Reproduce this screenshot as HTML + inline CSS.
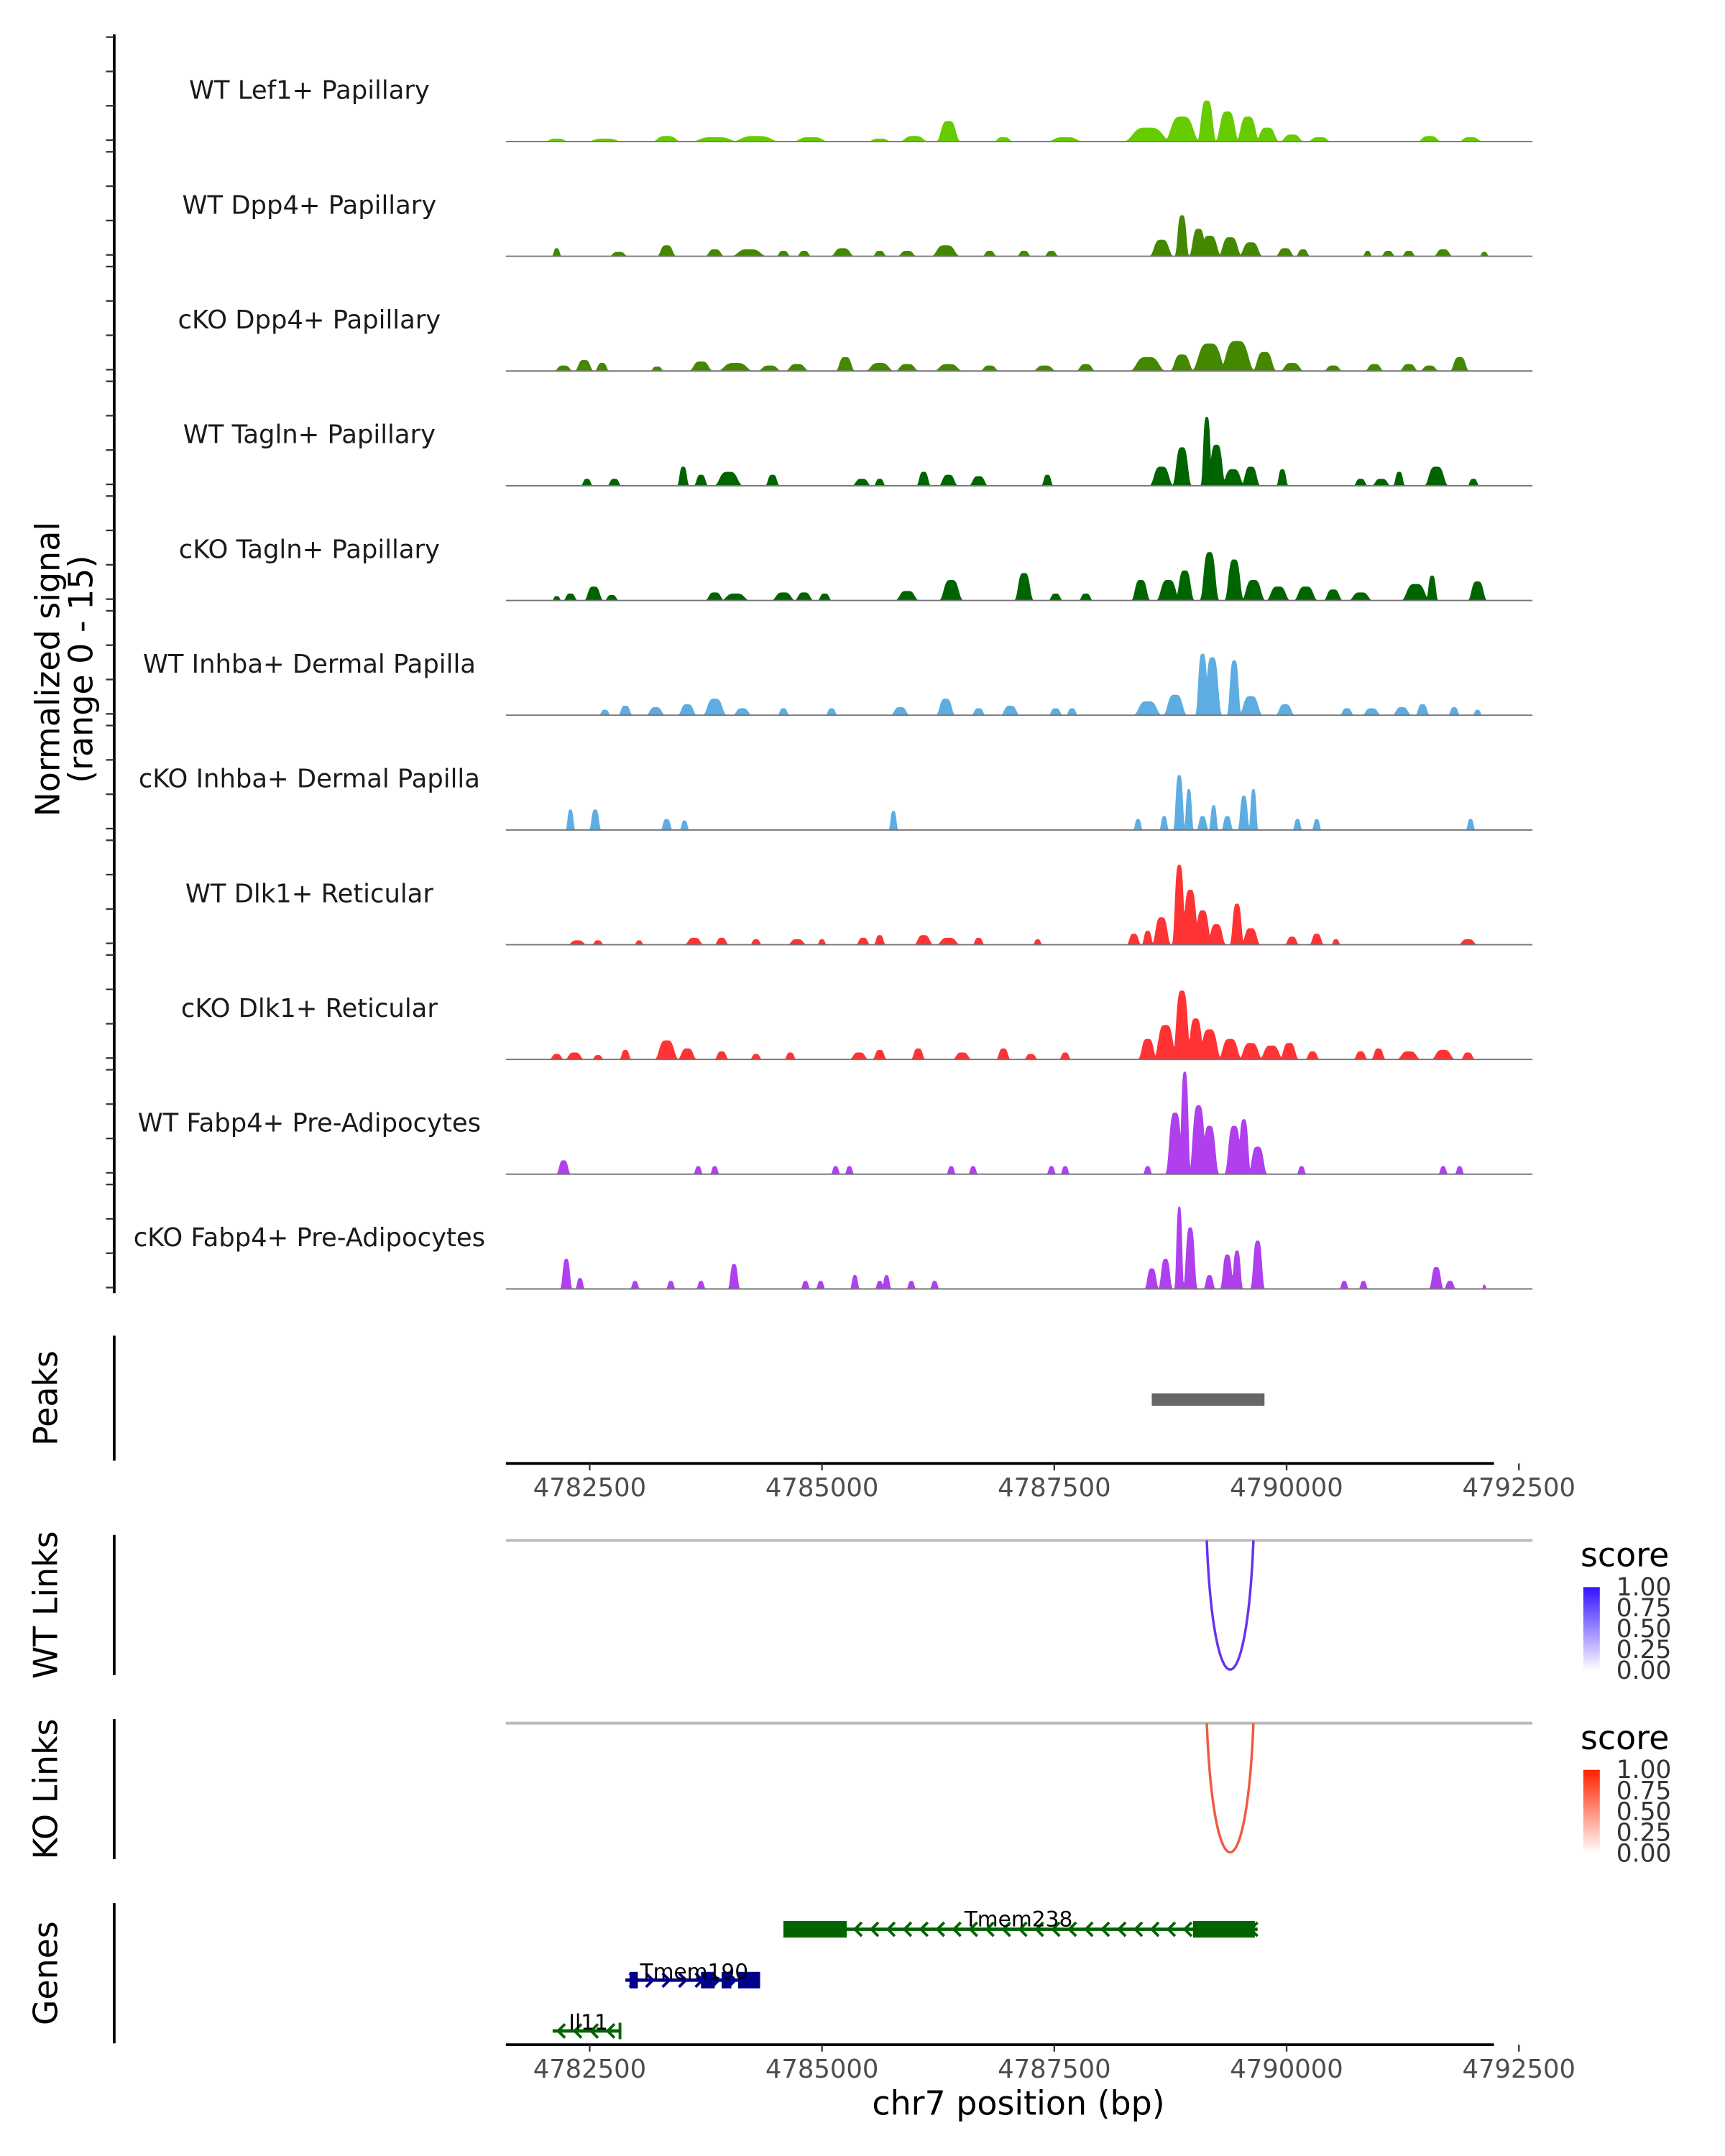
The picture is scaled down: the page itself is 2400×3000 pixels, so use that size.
<!DOCTYPE html>
<html><head><meta charset="utf-8"><style>
html,body{margin:0;padding:0;background:#fff;}
svg{display:block;font-family:"DejaVu Sans","Liberation Sans",sans-serif;}
</style></head><body>
<svg id="chart" width="2400" height="3000" viewBox="0 0 1255 1569" xmlns="http://www.w3.org/2000/svg">
<g id="tracks"></g>
<g id="rest"></g>
</svg>
<script>
// ---- data ----
const trackNames = ["WT Lef1+ Papillary","WT Dpp4+ Papillary","cKO Dpp4+ Papillary","WT Tagln+ Papillary","cKO Tagln+ Papillary","WT Inhba+ Dermal Papilla","cKO Inhba+ Dermal Papilla","WT Dlk1+ Reticular","cKO Dlk1+ Reticular","WT Fabp4+ Pre-Adipocytes","cKO Fabp4+ Pre-Adipocytes"];
const trackColors = ["#66cc00","#448800","#448800","#006400","#006400","#5dade2","#5dade2","#ff3333","#ff3333","#b040ee","#b040ee"];
const xTicks = [4782500,4785000,4787500,4790000,4792500];
const xDomain = [4781598,4792646];
const yRange = [0,15];
// bumps: [position bp, signal, width bp]
const t1=[[4782145,0.4,150],[4782663,0.4,225],[4783328,0.75,180],[4783846,0.6,300],[4784289,0.75,300],[4784881,0.6,225],[4785621,0.4,150],[4785990,0.75,180],[4786360,2.8,150],[4786952,0.6,120],[4787617,0.6,225],[4788505,1.9,300],[4788874,3.4,225],[4789141,5.6,120],[4789362,4.1,150],[4789584,3.4,150],[4789791,1.9,150],[4790058,0.95,150],[4790353,0.6,150],[4791537,0.75,150],[4791980,0.6,150]];
const t2=[[4782145,1.1,60],[4782811,0.6,120],[4783328,1.5,120],[4783846,0.95,120],[4784216,0.95,225],[4784585,0.75,90],[4784807,0.75,90],[4785221,1.1,150],[4785621,0.75,90],[4785916,0.75,120],[4786331,1.5,180],[4786804,0.75,90],[4787174,0.75,90],[4787469,0.75,90],[4788653,2.25,150],[4788874,5.6,90],[4789052,3.75,120],[4789170,2.8,150],[4789392,2.6,150],[4789614,1.9,150],[4789984,1.1,120],[4790176,0.95,90],[4790871,0.75,60],[4791093,0.75,90],[4791315,0.75,90],[4791685,0.95,120],[4792128,0.6,60]];
const t3=[[4782219,0.75,120],[4782441,1.5,120],[4782633,1.1,90],[4783225,0.6,90],[4783698,1.3,150],[4784068,1.1,225],[4784437,0.75,150],[4784733,0.95,150],[4785251,1.9,120],[4785621,1.1,180],[4785916,0.95,150],[4786360,0.95,180],[4786804,0.75,120],[4787395,0.75,150],[4787839,0.95,120],[4788505,1.9,225],[4788874,2.25,150],[4789170,3.75,225],[4789466,4.1,225],[4789762,2.6,150],[4790058,1.1,150],[4790501,0.75,120],[4790945,0.95,120],[4791315,0.95,120],[4791537,0.75,120],[4791862,1.9,120]];
const t4=[[4782470,0.95,75],[4782766,0.95,90],[4783506,2.6,75],[4783698,1.5,90],[4783994,1.9,180],[4784467,1.5,90],[4785428,0.95,120],[4785621,0.95,75],[4786094,1.9,90],[4786360,1.5,120],[4786685,1.3,120],[4787425,1.5,75],[4788653,2.6,150],[4788874,5.25,120],[4789141,9.4,75],[4789244,5.6,120],[4789422,2.25,150],[4789614,2.6,120],[4789954,2.25,75],[4790797,0.95,90],[4791019,0.95,120],[4791211,1.9,75],[4791611,2.6,150],[4792010,0.95,75]];
const t5=[[4782145,0.6,60],[4782293,0.95,90],[4782544,1.9,120],[4782737,0.75,90],[4783846,1.1,120],[4784068,0.95,180],[4784585,1.1,150],[4784807,1.1,120],[4785029,0.95,90],[4785916,1.3,150],[4786390,2.8,150],[4787174,3.75,120],[4787514,0.95,90],[4787839,0.95,90],[4788431,2.8,120],[4788727,2.8,150],[4788904,4.1,120],[4789170,6.6,120],[4789436,5.6,120],[4789643,2.8,150],[4789910,1.9,150],[4790206,1.9,150],[4790501,1.5,120],[4790797,1.1,150],[4791389,2.25,180],[4791566,3.4,75],[4792054,2.6,120]];
const t6=[[4782663,0.75,75],[4782884,1.3,90],[4783210,1.1,120],[4783550,1.5,120],[4783846,2.25,150],[4784142,0.95,120],[4784585,0.95,75],[4785103,0.95,75],[4785842,1.1,120],[4786331,2.25,120],[4786685,0.95,90],[4787026,1.3,120],[4787514,0.95,90],[4787691,0.95,75],[4788505,1.9,180],[4788800,2.8,150],[4789096,8.4,90],[4789200,7.9,120],[4789436,7.5,90],[4789614,2.6,150],[4789984,1.5,120],[4790649,0.95,90],[4790915,0.95,120],[4791241,1.1,120],[4791463,1.5,90],[4791803,1.1,75],[4792054,0.75,60]];
const t7=[[4782293,2.8,60],[4782559,2.8,75],[4783328,1.5,75],[4783520,1.3,60],[4785769,2.6,60],[4788401,1.5,60],[4788682,1.9,60],[4788845,7.5,75],[4788948,5.6,60],[4789096,1.9,75],[4789215,3.4,60],[4789362,1.9,75],[4789540,4.7,75],[4789643,5.6,60],[4790117,1.5,60],[4790324,1.5,60],[4791980,1.5,60]];
const t8=[[4782367,0.6,120],[4782589,0.6,75],[4783032,0.6,60],[4783624,0.95,120],[4783920,0.95,90],[4784290,0.75,75],[4784733,0.75,120],[4784999,0.75,60],[4785443,0.95,90],[4785621,1.3,75],[4786094,1.3,120],[4786360,0.95,150],[4786685,0.95,75],[4787321,0.75,60],[4788357,1.5,90],[4788505,1.9,75],[4788653,3.75,120],[4788845,10.9,90],[4788963,7.5,120],[4789096,4.7,120],[4789244,2.8,120],[4789466,5.6,90],[4789614,2.25,120],[4790058,1.1,90],[4790324,1.5,90],[4790531,0.75,60],[4791951,0.75,120]];
const t9=[[4782145,0.75,90],[4782337,0.95,120],[4782589,0.6,75],[4782884,1.3,75],[4783328,2.6,150],[4783550,1.5,120],[4783920,1.1,90],[4784290,0.75,75],[4784659,0.95,75],[4785399,0.95,120],[4785621,1.3,90],[4786035,1.5,90],[4786508,0.95,120],[4786952,1.5,90],[4787248,0.75,90],[4787617,0.95,75],[4788505,2.8,120],[4788697,4.7,150],[4788874,9.4,120],[4789022,5.6,120],[4789170,4.1,150],[4789392,2.8,150],[4789614,2.25,150],[4789836,1.9,150],[4790028,2.25,120],[4790279,1.1,90],[4790797,1.1,90],[4790989,1.5,90],[4791315,1.1,150],[4791685,1.3,150],[4791951,0.95,90]];
const t10=[[4782219,1.9,90],[4783668,1.1,60],[4783846,1.1,60],[4785147,1.1,60],[4785295,1.1,60],[4786390,1.1,60],[4786626,1.1,60],[4787469,1.1,60],[4787617,1.1,60],[4788505,1.1,60],[4788800,8.4,120],[4788904,14,75],[4789052,9.4,120],[4789170,6.6,120],[4789436,6.6,120],[4789540,7.5,90],[4789688,3.75,120],[4790161,1.1,60],[4791685,1.1,60],[4791862,1.1,60]];
const t11=[[4782248,4.1,75],[4782396,1.5,60],[4782988,1.1,60],[4783373,1.1,60],[4783698,1.1,60],[4784053,3.4,75],[4784822,1.1,60],[4784985,1.1,60],[4785354,1.9,60],[4785621,1.1,60],[4785695,1.9,60],[4785961,1.1,60],[4786212,1.1,60],[4788549,2.8,90],[4788697,4.1,90],[4788845,11.25,60],[4788963,8.4,90],[4789170,1.9,75],[4789362,4.7,90],[4789466,5.25,75],[4789688,6.6,90],[4790620,1.1,60],[4790827,1.1,60],[4791611,3,90],[4791758,1.1,75],[4792128,0.6,30]];
const trackData=[t1,t2,t3,t4,t5,t6,t7,t8,t9,t10,t11];
const peakRange=[4788549,4789762];
const wtLink=[4789141,4789643,0.8];
const koLink=[4789141,4789643,0.8];
const tmem238=[4784585,4789688];
const tmem238Exons=[[4784585,4785266],[4788993,4789658]];
const tmem190=[4782884,4784334];
const tmem190Exons=[[4782929,4783018],[4783698,4783846],[4783920,4784024],[4784097,4784334]];
const il11=[4782101,4782841];
const il11Exons=[[4782811,4782841]];

// ---- helpers ----
const NS="http://www.w3.org/2000/svg";
const X0=368,X1=1115;
function xs(bp){return X0+(bp-xDomain[0])/(xDomain[1]-xDomain[0])*(X1-X0);}
function mk(tag,attrs,parent){const e=document.createElementNS(NS,tag);for(const k in attrs)e.setAttribute(k,attrs[k]);parent.appendChild(e);return e;}
const tracksG=document.getElementById('tracks');
const rest=document.getElementById('rest');
const trackH=83.5, firstBase=103, hPx=80;

let ax=mk('line',{x1:83,y1:25,x2:83,y2:941,stroke:'#000','stroke-width':2},tracksG);



trackData.forEach((bumps,i)=>{
  const base=firstBase+i*trackH;
  const g=mk('g',{},tracksG);
  
  
  [1,26,51,76].forEach(o=>{
    const t=mk('line',{x1:77,x2:83,y1:base-o,y2:base-o,stroke:'#333','stroke-width':1.2},g);
    
    
  });
  let d='M'+X0+','+base;
  for(let px=X0;px<=X1;px+=0.5){
    const bp=xDomain[0]+(px-X0)/(X1-X0)*(xDomain[1]-xDomain[0]);
    let v=0;
    bumps.forEach(b=>{const s=b[2]/2;const z=(bp-b[0])/s;const val=b[1]*Math.exp(-0.5*z*z*z*z);if(val>v)v=val;});
    if(v<0.05)v=0;
    d+=' L'+px+','+(base-v/yRange[1]*hPx).toFixed(2);
  }
  d+=' L'+X1+','+base+' Z';
  const a=mk('path',{d:d,fill:trackColors[i],stroke:'none'},g);
  
  
  const bl=mk('line',{x1:X0,x2:X1,y1:base,y2:base,stroke:'#777','stroke-width':1},g);
  
  
  const lb=mk('text',{x:225,y:base-31,'text-anchor':'middle','font-size':'18.5',fill:'#1a1a1a'},g);
  lb.textContent=trackNames[i];
  
  
});
const yt=mk('text',{transform:'translate(43,487) rotate(-90)','text-anchor':'middle','font-size':'24',fill:'#000'},tracksG);
yt.innerHTML='<tspan x="0" dy="0">Normalized signal</tspan><tspan x="0" dy="24">(range 0 - 15)</tspan>';



function panelAxis(y1,y2,label,name){
  const l=mk('line',{x1:83,x2:83,y1:y1,y2:y2,stroke:'#000','stroke-width':2},rest);
  
  
  const c=(y1+y2)/2;
  const t=mk('text',{transform:'translate(33,'+c+') rotate(-90)','text-anchor':'middle','dominant-baseline':'central','font-size':'24',fill:'#000'},rest);
  t.textContent=label;
  
  
}
panelAxis(972,1063,'Peaks','peaks');
panelAxis(1117,1219,'WT Links','wt-links');
panelAxis(1251,1353,'KO Links','ko-links');
panelAxis(1385,1487,'Genes','genes');

const pk=mk('rect',{x:xs(peakRange[0]),y:1014,width:xs(peakRange[1])-xs(peakRange[0]),height:9,fill:'#666'},rest);



function xAxis(y,name){
  const l=mk('line',{x1:X0,x2:1087,y1:y,y2:y,stroke:'#000','stroke-width':2},rest);
  
  
  xTicks.forEach(t=>{
    const tk=mk('line',{x1:xs(t),x2:xs(t),y1:y,y2:y+5,stroke:'#333','stroke-width':1.2},rest);
    
    
    const tl=mk('text',{x:xs(t),y:y+24,'text-anchor':'middle','font-size':'18.5',fill:'#4d4d4d'},rest);
    tl.textContent=t;
    
    
  });
}
xAxis(1065,'peaks-x-axis');
xAxis(1488,'genes-x-axis');
const xt=mk('text',{x:741,y:1539,'text-anchor':'middle','font-size':'24',fill:'#000'},rest);
xt.textContent='chr7 position (bp)';



const defs=mk('defs',{},rest);
function grad(id,col){const g=mk('linearGradient',{id:id,x1:0,y1:1,x2:0,y2:0},defs);mk('stop',{offset:0,'stop-color':'#fff'},g);mk('stop',{offset:1,'stop-color':col},g);}
grad('gwt','#3311ff');grad('gko','#ff2200');

function linkPanel(top,link,col,gid,name){
  const gl=mk('line',{x1:X0,x2:X1,y1:top,y2:top,stroke:'#bbb','stroke-width':2},rest);
  
  
  const a=xs(link[0]),b=xs(link[1]);
  const depth=94/0.75;
  const p=mk('path',{d:'M'+a+','+top+' C'+(a+5)+','+(top+depth)+' '+(b-5)+','+(top+depth)+' '+b+','+top,fill:'none',stroke:col,'stroke-width':1.8},rest);
  
  
  const lt=mk('text',{x:1150,y:top+19,'font-size':'24',fill:'#000'},rest);
  lt.textContent='score';
  
  
  const cb=mk('rect',{x:1152,y:top+34,width:12,height:61,fill:'url(#'+gid+')'},rest);
  
  
  ['1.00','0.75','0.50','0.25','0.00'].forEach((s,k)=>{
    const yy=top+34+k*15.2;
    const t=mk('text',{x:1176,y:yy+6,'font-size':'18','fill':'#333'},rest);
    t.textContent=s;
    
    
  });
}
linkPanel(1121,wtLink,'#6633ee','gwt','wt-links');
linkPanel(1254,koLink,'#f05a40','gko','ko-links');

function gene(range,exons,y,col,label,dir,lx,ly,name){
  const g=mk('g',{},rest);
  
  
  mk('line',{x1:xs(range[0]),x2:xs(range[1]),y1:y,y2:y,stroke:col,'stroke-width':2.5},g);
  for(let px=xs(range[0])+6;px<xs(range[1])-2;px+=12){
    const d=dir<0?'M'+(px+3)+','+(y-5)+' L'+(px-2)+','+y+' L'+(px+3)+','+(y+5):'M'+(px-3)+','+(y-5)+' L'+(px+2)+','+y+' L'+(px-3)+','+(y+5);
    mk('path',{d:d,fill:'none',stroke:col,'stroke-width':2},g);
  }
  exons.forEach(e=>{const r=mk('rect',{x:xs(e[0]),y:y-6,width:Math.max(2,xs(e[1])-xs(e[0])),height:12,fill:col},g);});
  const t=mk('text',{x:lx,y:ly,'text-anchor':'middle','font-size':'15.5',fill:'#000'},g);
  t.textContent=label;
  
  
}
gene(tmem238,tmem238Exons,1404,'#006400','Tmem238',-1,741,1402,'gene-tmem238');
gene(tmem190,tmem190Exons,1441,'#00008b','Tmem190',1,505,1440,'gene-tmem190');
gene(il11,il11Exons,1478,'#006400','Il11',-1,428,1477,'gene-il11');
</script>
</body></html>
